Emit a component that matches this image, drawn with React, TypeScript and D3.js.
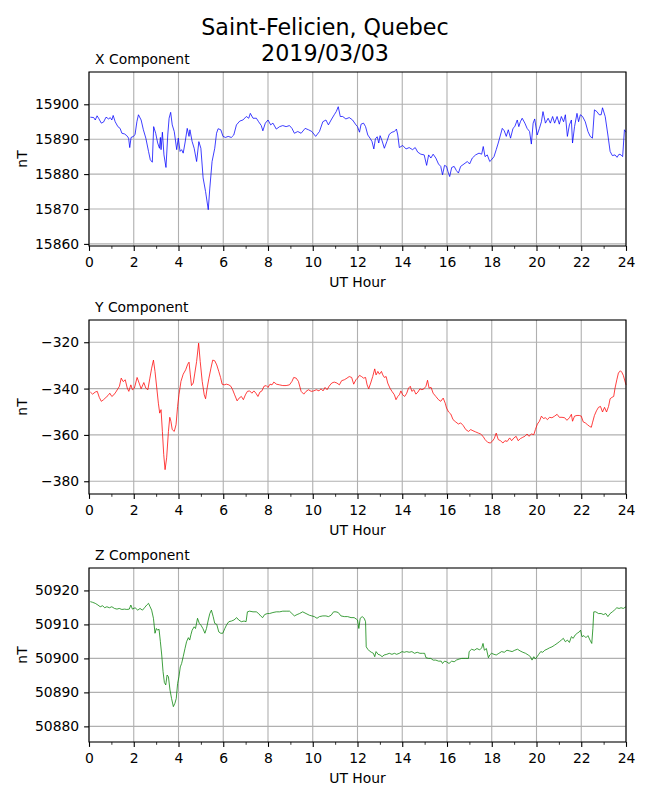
import { useEffect, useRef } from "react";
import * as d3 from "d3";

// hours (UT) and field values, one pair of arrays per component
const xHours = [
  0.06, 0.21, 0.28, 0.36, 0.43, 0.55, 0.65, 0.76, 0.88, 0.95, 1.02, 1.08, 1.17, 1.29, 1.39, 1.47, 1.59, 1.69, 1.77, 1.82,
  1.88, 1.99, 2.06, 2.14, 2.21, 2.33, 2.43, 2.54, 2.66, 2.74, 2.83, 2.89, 2.98, 3.07, 3.15, 3.19, 3.22, 3.28, 3.35, 3.44,
  3.52, 3.58, 3.65, 3.72, 3.81, 3.92, 3.99, 4.07, 4.14, 4.21, 4.29, 4.39, 4.47, 4.51, 4.61, 4.7, 4.81, 4.91, 5.0, 5.1,
  5.21, 5.33, 5.4, 5.5, 5.62, 5.7, 5.77, 5.89, 5.99, 6.1, 6.22, 6.36, 6.47, 6.59, 6.74, 6.88, 7.03, 7.14, 7.21, 7.33,
  7.48, 7.58, 7.7, 7.77, 7.88, 8.0, 8.12, 8.22, 8.37, 8.52, 8.66, 8.81, 8.96, 9.07, 9.18, 9.33, 9.48, 9.66, 9.81, 9.96,
  10.13, 10.3, 10.45, 10.59, 10.7, 10.82, 10.96, 11.05, 11.14, 11.23, 11.34, 11.48, 11.63, 11.78, 11.93,
  12.0, 12.09, 12.16, 12.27, 12.36, 12.46, 12.56, 12.65, 12.73, 12.8, 12.88, 12.95, 13.01, 13.1, 13.2, 13.31, 13.42, 13.54,
  13.65, 13.74, 13.8, 13.87, 14.02, 14.17, 14.31, 14.46, 14.58, 14.69, 14.83, 14.98, 15.09, 15.18, 15.28, 15.38, 15.5,
  15.62, 15.72, 15.8, 15.89, 15.98, 16.04, 16.12, 16.21, 16.32, 16.42, 16.51, 16.61, 16.76, 16.91, 17.01, 17.13, 17.28,
  17.43, 17.55, 17.62, 17.7, 17.8, 17.91, 17.99, 18.1, 18.2, 18.29, 18.39, 18.47, 18.56, 18.65, 18.74, 18.84, 18.95,
  19.03, 19.14, 19.21, 19.28, 19.36, 19.48, 19.58, 19.69, 19.77, 19.85, 19.92, 20.03, 20.13, 20.22, 20.29, 20.4, 20.52,
  20.62, 20.72, 20.81, 20.92, 21.02, 21.11, 21.21, 21.29, 21.38, 21.47, 21.56, 21.61, 21.7, 21.81, 21.88, 21.96, 22.06,
  22.18, 22.3, 22.4, 22.5, 22.59, 22.7, 22.8, 22.89, 22.95, 23.07, 23.19, 23.29, 23.39, 23.51, 23.6, 23.69, 23.78, 23.85,
  23.93, 24.0,
];
const xValues = [
  15896.3, 15896.2, 15895.5, 15896.7, 15896.0, 15894.6, 15894.9, 15896.3, 15895.8, 15896.2, 15895.5, 15896.8, 15895.0,
  15893.6, 15893.1, 15891.7, 15891.5, 15891.0, 15890.3, 15887.6, 15890.5, 15890.8, 15891.4, 15895.0, 15897.0, 15895.5,
  15892.7, 15890.3, 15886.5, 15884.1, 15883.4, 15893.6, 15891.7, 15888.9, 15887.4, 15890.5, 15887.0, 15892.0, 15885.5,
  15881.9, 15891.2, 15896.0, 15897.7, 15894.1, 15892.2, 15887.0, 15890.3, 15886.5, 15887.0, 15886.0, 15888.9, 15893.1,
  15890.8, 15892.7, 15889.3, 15887.4, 15883.6, 15889.3, 15887.4, 15878.9, 15875.0, 15869.8, 15876.0, 15883.6, 15887.4,
  15891.7, 15893.0, 15892.7, 15890.8, 15890.5, 15890.8, 15890.5, 15891.2, 15894.1, 15895.2, 15895.5, 15896.5, 15896.0,
  15897.4, 15896.0, 15896.0, 15895.0, 15893.9, 15892.4, 15894.6, 15895.5, 15894.1, 15894.6, 15892.9, 15893.6, 15893.9,
  15893.6, 15893.9, 15893.1, 15891.7, 15892.2, 15891.7, 15893.1, 15892.7, 15892.2, 15890.8, 15892.2, 15895.0, 15895.5,
  15894.1, 15895.5, 15897.0, 15897.9, 15899.3, 15896.5, 15896.5, 15895.8, 15896.2, 15895.5, 15894.1,
  15893.6, 15892.0, 15894.3, 15894.6, 15893.6, 15891.2, 15890.3, 15889.3, 15887.2, 15890.1, 15890.7, 15888.9, 15891.0,
  15889.5, 15887.4, 15889.3, 15891.4, 15892.0, 15892.2, 15892.9, 15891.2, 15887.6, 15888.2, 15887.2, 15887.6, 15887.0,
  15887.6, 15886.3, 15885.7, 15885.5, 15882.5, 15885.5, 15884.6, 15885.7, 15884.6, 15882.9, 15882.2, 15879.8, 15882.5,
  15882.2, 15880.8, 15879.3, 15881.9, 15882.2, 15881.0, 15880.3, 15882.2, 15882.9, 15883.6, 15882.9, 15884.6, 15885.5,
  15886.0, 15885.7, 15887.9, 15885.0, 15885.5, 15883.6, 15884.1, 15885.0, 15887.0, 15888.9, 15891.2, 15893.1, 15892.4,
  15890.8, 15892.7, 15890.3, 15893.1, 15893.6, 15895.5, 15893.6, 15895.0, 15896.0, 15894.6, 15893.1, 15892.2, 15888.6,
  15894.6, 15895.8, 15891.2, 15893.1, 15895.0, 15897.9, 15894.6, 15896.0, 15894.6, 15896.5, 15894.6, 15896.5, 15894.3,
  15896.5, 15895.0, 15897.0, 15890.8, 15894.1, 15895.5, 15888.9, 15893.6, 15897.4, 15895.0, 15897.0, 15896.5, 15895.0,
  15892.2, 15890.8, 15890.3, 15898.4, 15897.9, 15897.0, 15897.0, 15899.0, 15896.5, 15891.2, 15886.5, 15885.3, 15885.5,
  15884.8, 15885.7, 15885.5, 15885.0, 15892.7, 15892.0,
];

const yHours = [
  0.06, 0.16, 0.28, 0.37, 0.46, 0.55, 0.65, 0.76, 0.85, 0.93, 1.02, 1.11, 1.2, 1.29, 1.36, 1.44, 1.53, 1.62, 1.71, 1.78,
  1.87, 1.94, 2.03, 2.15, 2.24, 2.33, 2.45, 2.54, 2.63, 2.72, 2.8, 2.88, 2.95, 3.03, 3.1, 3.16, 3.22, 3.28, 3.34, 3.4,
  3.47, 3.55, 3.61, 3.66, 3.72, 3.81, 3.89, 3.96, 4.02, 4.11, 4.21, 4.32, 4.41, 4.47, 4.53, 4.58, 4.66, 4.73, 4.81, 4.9,
  4.97, 5.06, 5.15, 5.21, 5.28, 5.36, 5.45, 5.53, 5.62, 5.71, 5.8, 5.88, 5.95, 6.04, 6.14, 6.25, 6.34, 6.42, 6.51, 6.62,
  6.71, 6.81, 6.9, 6.99, 7.08, 7.18, 7.28, 7.37, 7.46, 7.55, 7.64, 7.73, 7.82, 7.92, 8.0, 8.09, 8.18, 8.26, 8.38, 8.52,
  8.66, 8.81, 8.96, 9.07, 9.15, 9.26, 9.36, 9.48, 9.6, 9.7, 9.81, 9.93, 10.04, 10.16, 10.28, 10.37, 10.46, 10.55, 10.64,
  10.73, 10.85, 10.96, 11.08, 11.19, 11.29, 11.41, 11.53, 11.63, 11.74, 11.83, 11.93,
  12.0, 12.09, 12.18, 12.27, 12.36, 12.43, 12.5, 12.59, 12.68, 12.77, 12.83, 12.91, 12.98, 13.07, 13.13, 13.2, 13.28,
  13.35, 13.45, 13.54, 13.65, 13.72, 13.8, 13.87, 13.94, 14.02, 14.11, 14.2, 14.28, 14.36, 14.43, 14.52, 14.61, 14.7,
  14.79, 14.88, 14.97, 15.06, 15.13, 15.2, 15.29, 15.38, 15.5, 15.62, 15.72, 15.83, 15.92, 15.98, 16.07, 16.17, 16.27,
  16.39, 16.51, 16.61, 16.72, 16.84, 16.96, 17.06, 17.16, 17.28, 17.4, 17.5, 17.61, 17.7, 17.82, 17.93, 18.02, 18.11,
  18.2, 18.29, 18.39, 18.5, 18.59, 18.69, 18.8, 18.89, 18.99, 19.09, 19.18, 19.28, 19.39, 19.48, 19.58, 19.66, 19.77,
  19.88, 19.95, 20.04, 20.13, 20.22, 20.31, 20.4, 20.49, 20.58, 20.69, 20.81, 20.92, 21.02, 21.14, 21.26, 21.36, 21.47,
  21.56, 21.61, 21.7, 21.81, 21.91, 22.0, 22.09, 22.18, 22.28, 22.37, 22.45, 22.5, 22.59, 22.68, 22.77, 22.86, 22.95,
  23.04, 23.13, 23.22, 23.29, 23.37, 23.45, 23.51, 23.59, 23.66, 23.75, 23.81, 23.88, 24.0,
];
const yValues = [
  -341.5, -342.4, -341.5, -341.2, -343.8, -345.5, -344.8, -343.8, -343.0, -342.0, -343.4, -342.7, -341.5, -340.1, -339.0,
  -335.5, -337.0, -336.2, -339.8, -341.2, -338.4, -340.5, -339.8, -335.2, -337.6, -340.1, -337.4, -339.8, -340.5, -335.5,
  -331.2, -327.7, -332.6, -339.8, -346.3, -350.6, -349.1, -358.5, -368.5, -375.0, -369.9, -358.5, -352.4, -354.1, -357.7,
  -358.5, -355.6, -347.7, -342.7, -336.9, -333.8, -331.9, -329.5, -328.6, -334.1, -338.7, -337.6, -333.3, -328.3, -320.4,
  -328.3, -336.9, -342.7, -344.4, -339.8, -335.5, -331.2, -327.7, -328.0, -329.8, -332.6, -335.2, -338.1, -338.4, -338.1,
  -338.4, -339.0, -340.5, -342.7, -345.3, -344.1, -343.4, -344.8, -342.7, -341.2, -341.0, -342.0, -341.0, -342.0, -343.4,
  -341.5, -341.0, -339.0, -338.7, -339.5, -338.1, -338.4, -337.2, -338.1, -338.4, -338.7, -338.7, -338.4, -336.9, -335.2,
  -335.5, -336.9, -341.2, -342.4, -341.2, -340.5, -341.2, -341.0, -340.5, -341.0, -340.1, -341.0, -339.5, -340.5, -339.0,
  -337.6, -337.2, -337.6, -338.4, -336.6, -336.2, -335.5, -334.8, -335.2, -338.1, -336.2,
  -335.5, -334.3, -334.8, -335.5, -335.2, -338.4, -340.1, -337.6, -334.8, -331.5, -334.1, -332.6, -333.8, -332.6, -334.1,
  -335.2, -334.8, -337.6, -339.8, -341.2, -342.7, -344.8, -343.4, -342.7, -341.0, -342.7, -343.4, -342.0, -339.8, -339.0,
  -341.2, -340.5, -342.4, -341.5, -340.1, -340.5, -340.1, -339.0, -336.4, -339.8, -339.5, -342.0, -343.4, -344.8, -345.5,
  -344.1, -346.3, -348.4, -350.1, -351.0, -353.4, -354.4, -355.3, -354.8, -355.9, -357.7, -358.5, -357.7, -358.2, -358.7,
  -359.2, -359.6, -360.6, -362.0, -363.2, -363.5, -362.8, -361.6, -359.2, -362.0, -362.5, -363.5, -362.5, -362.8, -361.3,
  -362.5, -361.3, -360.6, -362.5, -361.6, -361.0, -360.6, -359.6, -360.6, -359.6, -359.9, -357.7, -355.3, -354.1, -351.9,
  -352.9, -352.6, -353.4, -352.4, -352.6, -351.9, -351.1, -352.4, -352.4, -352.6, -353.7, -352.6, -351.1, -354.1, -351.9,
  -351.6, -351.6, -351.9, -354.4, -354.8, -355.6, -356.3, -356.7, -354.8, -351.6, -349.6, -348.1, -347.7, -350.1, -348.1,
  -350.1, -347.7, -344.4, -343.8, -343.4, -339.8, -336.2, -333.3, -332.3, -332.9, -334.3, -338.4,
];

const zHours = [
  0.06, 0.16, 0.28, 0.4, 0.5, 0.61, 0.7, 0.8, 0.91, 1.02, 1.14, 1.25, 1.35, 1.47, 1.59, 1.69, 1.8, 1.87, 1.94, 2.06, 2.18,
  2.28, 2.39, 2.48, 2.58, 2.66, 2.73, 2.8, 2.88, 2.95, 3.01, 3.07, 3.13, 3.19, 3.25, 3.31, 3.37, 3.43, 3.49, 3.55, 3.62,
  3.69, 3.77, 3.84, 3.9, 3.96, 4.02, 4.08, 4.14, 4.21, 4.29, 4.36, 4.44, 4.5, 4.56, 4.61, 4.7, 4.76, 4.85, 4.93, 5.0,
  5.09, 5.18, 5.25, 5.33, 5.4, 5.47, 5.55, 5.62, 5.71, 5.8, 5.89, 5.98, 6.07, 6.16, 6.25, 6.37, 6.48, 6.6, 6.69, 6.81,
  6.93, 7.02, 7.08, 7.18, 7.33, 7.48, 7.58, 7.67, 7.76, 7.85, 7.97, 8.07, 8.22, 8.37, 8.52, 8.66, 8.81, 8.96, 9.07, 9.18,
  9.3, 9.41, 9.55, 9.7, 9.85, 9.96, 10.07, 10.19, 10.3, 10.45, 10.59, 10.7, 10.82, 10.93, 11.04, 11.14, 11.26, 11.41,
  11.56, 11.71, 11.85, 11.94,
  12.0, 12.06, 12.12, 12.21, 12.3, 12.36, 12.39, 12.46, 12.53, 12.62, 12.71, 12.77, 12.83, 12.92, 13.01, 13.1, 13.19,
  13.31, 13.42, 13.54, 13.65, 13.75, 13.87, 13.99, 14.09, 14.2, 14.31, 14.43, 14.55, 14.67, 14.79, 14.91, 15.0, 15.06,
  15.18, 15.28, 15.38, 15.5, 15.62, 15.74, 15.8, 15.89, 15.98, 16.09, 16.21, 16.32, 16.42, 16.54, 16.66, 16.81, 16.96,
  16.99, 17.1, 17.22, 17.34, 17.46, 17.55, 17.61, 17.67, 17.76, 17.85, 17.91, 17.99, 18.1, 18.2, 18.32, 18.44, 18.56,
  18.68, 18.8, 18.91, 19.03, 19.15, 19.27, 19.39, 19.51, 19.63, 19.73, 19.8, 19.88, 19.95, 20.03, 20.1, 20.19, 20.28,
  20.37, 20.47, 20.58, 20.69, 20.81, 20.92, 21.02, 21.11, 21.2, 21.29, 21.38, 21.47, 21.56, 21.64, 21.73, 21.82, 21.91,
  21.97, 22.03, 22.12, 22.21, 22.3, 22.39, 22.47, 22.52, 22.56, 22.65, 22.77, 22.89, 22.99, 23.1, 23.19, 23.29, 23.39,
  23.48, 23.59, 23.69, 23.78, 23.88, 24.0,
];
const zValues = [
  50916.7, 50916.5, 50916.2, 50915.7, 50915.2, 50915.5, 50914.9, 50915.2, 50914.9, 50915.2, 50914.7, 50914.5, 50914.7,
  50914.4, 50914.5, 50914.4, 50914.5, 50915.7, 50914.5, 50914.9, 50914.2, 50914.7, 50914.2, 50914.9, 50915.7, 50916.2,
  50915.2, 50914.2, 50911.8, 50907.4, 50908.8, 50908.3, 50908.6, 50904.9, 50901.0, 50896.1, 50892.9, 50892.2, 50895.1,
  50894.6, 50890.7, 50888.2, 50885.8, 50886.8, 50888.2, 50892.6, 50894.6, 50897.5, 50898.5, 50900.5, 50902.9, 50904.9,
  50906.1, 50905.4, 50907.1, 50908.3, 50909.3, 50908.8, 50911.8, 50910.3, 50909.8, 50908.8, 50907.4, 50908.8, 50911.3,
  50913.2, 50914.2, 50912.3, 50910.3, 50910.0, 50907.8, 50907.4, 50907.4, 50908.8, 50910.0, 50910.8, 50911.0, 50911.3,
  50912.0, 50911.3, 50910.8, 50911.0, 50910.8, 50913.7, 50913.9, 50913.7, 50913.7, 50913.2, 50912.5, 50912.0, 50912.9,
  50913.2, 50913.2, 50913.5, 50913.7, 50913.7, 50913.9, 50913.9, 50913.9, 50913.2, 50912.5, 50912.9, 50913.2, 50913.7,
  50913.2, 50912.7, 50912.5, 50912.3, 50911.8, 50912.3, 50912.5, 50912.5, 50912.3, 50912.7, 50913.7, 50913.7, 50913.5,
  50912.5, 50912.3, 50912.3, 50912.0, 50912.0, 50911.6,
  50911.3, 50908.8, 50911.8, 50912.3, 50911.8, 50910.8, 50903.4, 50902.7, 50902.2, 50901.8, 50901.5, 50900.5, 50902.0,
  50901.2, 50901.0, 50900.5, 50901.0, 50901.2, 50901.5, 50901.2, 50901.5, 50901.2, 50901.5, 50902.0, 50901.8, 50902.0,
  50901.8, 50902.0, 50901.5, 50901.8, 50901.5, 50901.5, 50901.5, 50900.2, 50900.0, 50900.0, 50899.5, 50899.5, 50899.2,
  50899.2, 50898.5, 50899.2, 50899.0, 50898.5, 50899.2, 50899.0, 50899.5, 50899.8, 50900.0, 50900.0, 50900.0, 50902.0,
  50902.7, 50902.4, 50902.9, 50902.5, 50903.1, 50904.4, 50902.4, 50902.9, 50900.2, 50901.0, 50901.5, 50901.2, 50901.0,
  50901.5, 50902.0, 50901.8, 50902.4, 50902.2, 50902.0, 50902.4, 50902.7, 50902.2, 50901.8, 50901.5, 50901.0, 50900.5,
  50899.5, 50900.5, 50899.8, 50900.5, 50901.2, 50902.0, 50901.8, 50902.4, 50902.7, 50903.1, 50903.4, 50903.9, 50904.4,
  50904.9, 50905.4, 50905.9, 50904.9, 50905.4, 50904.7, 50906.4, 50905.9, 50906.9, 50907.4, 50907.8, 50908.3, 50906.4,
  50906.7, 50906.1, 50906.7, 50905.4, 50904.4, 50908.8, 50913.7, 50913.7, 50913.2, 50913.2, 50912.9, 50913.2, 50912.3,
  50913.2, 50913.7, 50914.2, 50914.9, 50914.7, 50914.9, 50914.7, 50915.2,
];

const hourTicks = [0, 2, 4, 6, 8, 10, 12, 14, 16, 18, 20, 22, 24];
const hourMinorTicks = [1, 3, 5, 7, 9, 11, 13, 15, 17, 19, 21, 23];
const xTicks = [15860, 15870, 15880, 15890, 15900];
const yTicks = [-380, -360, -340, -320];
const zTicks = [50880, 50890, 50900, 50910, 50920];

const panels = [
  { label: "X Component", hours: xHours, values: xValues, ticks: xTicks, domain: [15859.4, 15909.25], color: "#0000ff" },
  { label: "Y Component", hours: yHours, values: yValues, ticks: yTicks, domain: [-385.5, -310.4], color: "#ff0000" },
  { label: "Z Component", hours: zHours, values: zValues, ticks: zTicks, domain: [50875.4, 50926.6], color: "#008000" },
];

const W = 650;
const H = 800;
const FONT = "DejaVu Sans, sans-serif";

export default function App() {
  const ref = useRef<SVGSVGElement>(null);

  useEffect(() => {
    if (!ref.current) return;
    const svg = d3.select(ref.current);
    svg.selectAll("*").remove();

    svg.append("rect").attr("width", W).attr("height", H).attr("fill", "#fff");

    const title = svg.append("text")
      .attr("x", 325)
      .attr("text-anchor", "middle")
      .attr("font-family", FONT)
      .attr("font-size", 22.2)
      .attr("fill", "#000");
    title.append("tspan").attr("x", 325).attr("y", 34.5).text("Saint-Felicien, Quebec");
    title.append("tspan").attr("x", 325).attr("y", 61).text("2019/03/03");

    const left = 89;
    const right = 626;
    const h = 174;
    const fmt = (d: number) => (d < 0 ? "\u2212" + Math.abs(d) : String(d));

    panels.forEach((p, i) => {
      const top = 72 + 248 * i;
      const x = d3.scaleLinear().domain([0, 24]).range([left, right]);
      const y = d3.scaleLinear().domain(p.domain).range([top + h, top]);

      const g = svg.append("g");

      // grid
      g.selectAll("line.vgrid").data(hourTicks).enter().append("line")
        .attr("x1", d => x(d)).attr("x2", d => x(d))
        .attr("y1", top).attr("y2", top + h)
        .attr("stroke", "#b0b0b0").attr("stroke-width", 1.1);
      g.selectAll("line.hgrid").data(p.ticks).enter().append("line")
        .attr("x1", left).attr("x2", right)
        .attr("y1", d => y(d)).attr("y2", d => y(d))
        .attr("stroke", "#b0b0b0").attr("stroke-width", 1.1);

      // data line
      const pts = p.hours.map((hr, k) => [hr, p.values[k]] as [number, number]);
      const line = d3.line<[number, number]>().x(d => x(d[0])).y(d => y(d[1]));
      g.append("path")
        .attr("d", line(pts) as string)
        .attr("fill", "none")
        .attr("stroke", p.color)
        .attr("stroke-width", 0.75)
        .attr("stroke-linejoin", "round");

      // axes
      const xAxis = g.append("g").attr("transform", `translate(0,${top + h})`)
        .call(d3.axisBottom(x).tickValues(hourTicks).tickSize(4.9).tickPadding(5.8).tickFormat(d => String(d)));
      g.append("g").attr("transform", `translate(0,${top + h})`)
        .call(d3.axisBottom(x).tickValues(hourMinorTicks).tickSize(2.8).tickFormat(() => ""))
        .call(a => a.select(".domain").remove())
        .selectAll("line").attr("stroke", "#000").attr("stroke-width", 0.8);
      const yAxis = g.append("g").attr("transform", `translate(${left},0)`)
        .call(d3.axisLeft(y).tickValues(p.ticks).tickSize(4.9).tickPadding(4.9).tickFormat(d => fmt(+d)));

      [xAxis, yAxis].forEach(a => {
        a.select(".domain").remove();
        a.selectAll("line").attr("stroke", "#000").attr("stroke-width", 1.1);
        a.selectAll("text").attr("font-family", FONT).attr("font-size", 13.9).attr("fill", "#000");
      });

      // frame
      g.append("rect")
        .attr("x", left).attr("y", top).attr("width", right - left).attr("height", h)
        .attr("fill", "none").attr("stroke", "#000").attr("stroke-width", 1.1);

      g.append("text")
        .attr("x", 95).attr("y", top - 8)
        .attr("font-family", FONT).attr("font-size", 13.9)
        .text(p.label);

      g.append("text")
        .attr("x", (left + right) / 2).attr("y", top + h + 40.5)
        .attr("text-anchor", "middle")
        .attr("font-family", FONT).attr("font-size", 13.9)
        .text("UT Hour");

      g.append("text")
        .attr("transform", `translate(27,${top + h / 2}) rotate(-90)`)
        .attr("text-anchor", "middle")
        .attr("font-family", FONT).attr("font-size", 13.9)
        .text("nT");
    });
  }, []);

  return <svg ref={ref} width={W} height={H} style={{ position: "absolute", left: 0, top: 0 }}></svg>;
}
